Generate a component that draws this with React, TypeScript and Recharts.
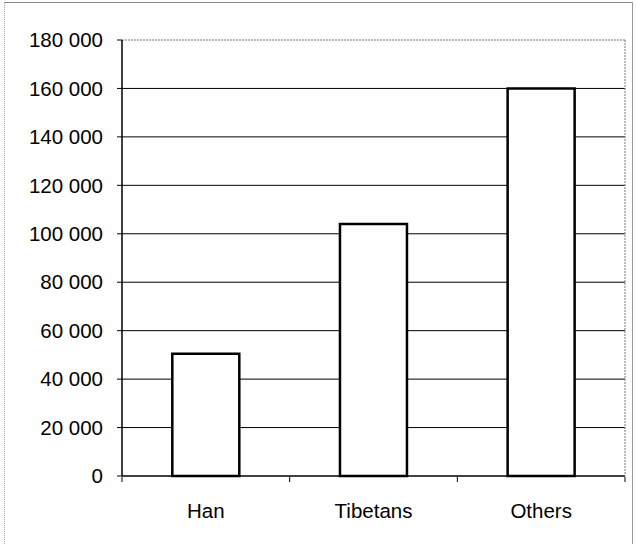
import { BarChart, Bar, XAxis, YAxis, CartesianGrid, ReferenceLine } from 'recharts';

const groups = ['Han', 'Tibetans', 'Others'];
const population = [50500, 104000, 160000];
const yTicks = [0, 20000, 40000, 60000, 80000, 100000, 120000, 140000, 160000, 180000];
const edgeTicks = [0, 1, 2, 3];

const data = groups.map((name, i) => ({ name, value: population[i], idx: i + 0.5 }));

const fmt = (v: number) => (v === 0 ? '0' : `${Math.floor(v / 1000)} 000`);

const font = { fontFamily: '"Liberation Sans", Arial, sans-serif', fontSize: 20.5, fill: '#000' };

export default function App() {
  return (
    <div style={{ position: 'relative', width: 637, height: 544, background: '#fff' }}>
      <style>{`body{margin:0}`}</style>
      <div
        style={{
          position: 'absolute',
          left: 4,
          top: 2,
          width: 629,
          height: 542,
          borderTop: '1px solid #888',
          borderRight: '1px solid #999',
          borderLeft: '1px dotted #aaa',
          boxSizing: 'border-box',
        }}
      />
      <div style={{ position: 'absolute', left: 0, top: 0 }}>
        <BarChart
          width={637}
          height={544}
          data={data}
          margin={{ top: 40, right: 0, bottom: 0, left: 0 }}
          barCategoryGap="30%"
        >
          <CartesianGrid
            vertical={false}
            horizontalValues={yTicks.slice(1, -1)}
            stroke="#000"
            strokeWidth={1}
          />
          <ReferenceLine y={180000} stroke="#777" strokeDasharray="2 1" />
          <XAxis
            xAxisId="edges"
            type="number"
            dataKey="idx"
            domain={[0, 3]}
            ticks={edgeTicks}
            allowDataOverflow
            height={67}
            axisLine={false}
            tickLine={{ stroke: '#000' }}
            tickSize={5}
            tickFormatter={() => ''}
          />
          <XAxis
            dataKey="name"
            height={1}
            axisLine={{ stroke: '#000', strokeWidth: 1.5 }}
            tickLine={false}
            tickMargin={21}
            tick={font}
            interval={0}
          />
          <YAxis
            width={122}
            domain={[0, 180000]}
            ticks={yTicks}
            tickFormatter={fmt}
            axisLine={{ stroke: '#000', strokeWidth: 1.5 }}
            tickLine={{ stroke: '#000' }}
            tickSize={5}
            tickMargin={14}
            tick={font}
          />
          <YAxis
            yAxisId="right"
            orientation="right"
            width={12}
            domain={[0, 180000]}
            tick={false}
            tickLine={false}
            axisLine={{ stroke: '#777', strokeDasharray: '2 1' }}
          />
          <Bar dataKey="value" fill="#fff" stroke="#000" strokeWidth={2.5} isAnimationActive={false} />
        </BarChart>
      </div>
    </div>
  );
}
